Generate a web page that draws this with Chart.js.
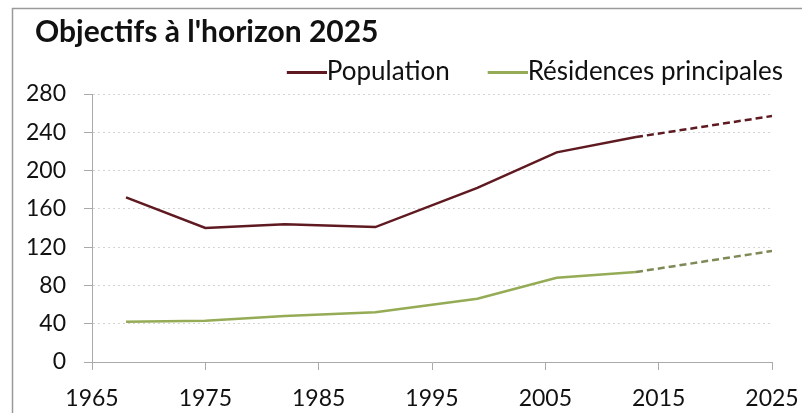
<!DOCTYPE html>
<html><head><meta charset="utf-8">
<script src="https://cdn.jsdelivr.net/npm/chart.js@4"></script>
<style>html,body{margin:0;padding:0;background:#fff;}#wrap{width:802px;height:413px;}</style>
</head><body><div id="wrap"><canvas id="c" width="802" height="413"></canvas></div>
<script>
const chartTitle = "Objectifs à l'horizon 2025";
const years = [1968, 1975, 1982, 1990, 1999, 2006, 2013, 2025];
const population = [172, 140, 144, 141, 182, 219, 235, 257];
const residences = [42, 43, 48, 52, 66, 88, 94, 116];
const seriesNames = ["Population", "Résidences principales"];
const projectionStart = 2013;
const xTicks = [1965, 1975, 1985, 1995, 2005, 2015, 2025];
const yTicks = [0, 40, 80, 120, 160, 200, 240, 280];

const popColor = '#5e1a20';
const resColor = '#95ab55';
const resDashColor = '#7d8a55';
const legendPad = 10;
const legendFont = 26;
const legendBox = 55;
const legendLineLen = 40;

const toPts = (ys) => years.map((x, i) => ({x, y: ys[i]}));
// legend sample: transparent on the left, a short line touching the label on the right
function legendLine(color) {
  const c = document.createElement('canvas');
  c.width = legendBox + legendFont; c.height = 3;
  const g = c.getContext('2d');
  g.fillStyle = color; g.fillRect(c.width - legendLineLen, 0, legendLineLen, 3);
  return c;
}

const frame = {
  id: 'frame',
  beforeDraw(chart) {
    const ctx = chart.ctx;
    ctx.save();
    ctx.fillStyle = '#fff';
    ctx.fillRect(0, 0, chart.width, chart.height);
    ctx.strokeStyle = '#9a9a9a';
    ctx.lineWidth = 1.5;
    ctx.strokeRect(12.5, 8.5, chart.width - 10, chart.height);
    ctx.restore();
  }
};
const boxShift = {
  id: 'boxShift',
  afterLayout(chart) {
    if (chart.titleBlock) chart.titleBlock.left = 35;
    if (chart.legend) {
      chart.legend.right = 783 + legendPad;
      chart.legend.top += 1;
    }
  }
};

const font = 'Lato';
new Chart(document.getElementById('c'), {
  type: 'line',
  data: {
    datasets: [
      {
        label: seriesNames[0], data: toPts(population),
        borderColor: popColor, backgroundColor: popColor, borderWidth: 2.5,
        pointRadius: 0, tension: 0, pointStyle: legendLine(popColor),
        segment: { borderDash: ctx => ctx.p0.parsed.x >= projectionStart ? [7, 4] : undefined }
      },
      {
        label: seriesNames[1], data: toPts(residences),
        borderColor: resColor, backgroundColor: resColor, borderWidth: 2.5,
        pointRadius: 0, tension: 0, pointStyle: legendLine(resColor),
        segment: {
          borderDash: ctx => ctx.p0.parsed.x >= projectionStart ? [7, 4] : undefined,
          borderColor: ctx => ctx.p0.parsed.x >= projectionStart ? resDashColor : undefined
        }
      }
    ]
  },
  options: {
    responsive: false, animation: false,
    layout: { padding: { left: 14, right: 18, top: 7, bottom: 0 } },
    plugins: {
      title: {
        display: true, text: chartTitle, align: 'start', color: '#111',
        font: { family: font, size: 30, weight: 'bold' },
        padding: { top: 7, bottom: -2 }
      },
      legend: {
        display: true, position: 'top', align: 'end',
        labels: {
          usePointStyle: true, pointStyleWidth: legendBox,
          color: '#111', font: { family: font, size: legendFont }, padding: legendPad, boxHeight: 3
        }
      },
      tooltip: { enabled: false }
    },
    scales: {
      x: {
        type: 'linear', min: xTicks[0], max: xTicks[xTicks.length - 1],
        afterBuildTicks: (s) => { s.ticks = xTicks.map(v => ({value: v})); },
        afterFit: (s) => { s.height = 51; s.paddingRight = 30; },
        grid: { drawOnChartArea: false, tickLength: 8, tickColor: '#aaa' },
        border: { color: '#aaa', width: 1 },
        ticks: { color: '#111', font: { family: font, size: 23 }, padding: 15, maxRotation: 0,
                 callback: (v) => String(v) }
      },
      y: {
        min: yTicks[0], max: yTicks[yTicks.length - 1],
        afterBuildTicks: (s) => { s.ticks = yTicks.map(v => ({value: v})); },
        afterFit: (s) => { s.width = 78; },
        grid: { color: '#d4d4d4', tickLength: 8, tickColor: '#aaa', lineWidth: 1 },
        border: { color: '#aaa', width: 1, dash: [2, 3] },
        ticks: { color: '#111', font: { family: font, size: 23 }, padding: 18 }
      }
    }
  },
  plugins: [frame, boxShift]
});
</script>
</body></html>
